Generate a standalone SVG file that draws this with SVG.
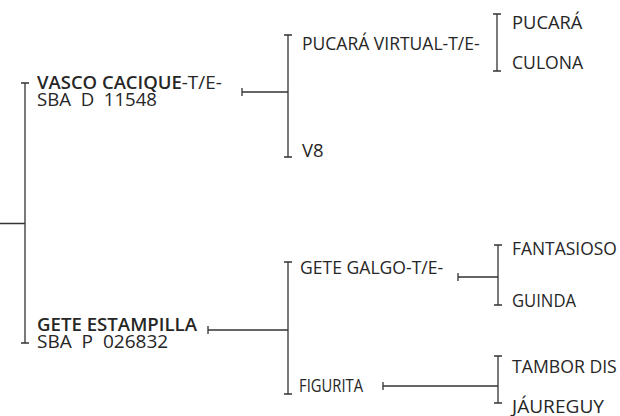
<svg xmlns="http://www.w3.org/2000/svg" width="620" height="416" viewBox="0 0 620 416">
<style>
text{font-family:"Open Sans","Noto Sans","Liberation Sans",sans-serif;font-size:18.5px;font-weight:500;fill:#262626;white-space:pre}
.b{font-weight:650}
#connectors path{fill:none;stroke:#333;stroke-width:1.3}
</style>
<rect width="620" height="416" fill="#fff"/>
<g id="connectors">
<path d="M0 223.5H25M25 83V343M21 83H29M21 343H29"/>
<path d="M242 88V96M242 92H288M288 35V157M284 35H292M284 157H292"/>
<path d="M497 14V71M493 14H501M493 71H501"/>
<path d="M208 326V334M208 330H288M288 262V394M284 262H292M284 394H292"/>
<path d="M458 273V281M458 277H498M498 245V305M494 245H502M494 305H502"/>
<path d="M383 382V390M383 386H498M498 356V403M494 356H502M494 403H502"/>
</g>
<g id="n-vasco">
<g transform="translate(37 89) scale(0.8 1)"><text><tspan class="b" textLength="181" lengthAdjust="spacingAndGlyphs">VASCO CACIQUE</tspan><tspan textLength="50" lengthAdjust="spacingAndGlyphs">-T/E-</tspan></text></g>
<g transform="translate(37 106) scale(0.8 1)"><text textLength="150" lengthAdjust="spacingAndGlyphs">SBA  D  11548</text></g>
</g>
<g id="n-pucara-virtual" transform="translate(302 50) scale(0.8 1)"><text textLength="222" lengthAdjust="spacingAndGlyphs">PUCARÁ VIRTUAL-T/E-</text></g>
<g id="n-v8" transform="translate(302 157) scale(0.8 1)"><text textLength="27" lengthAdjust="spacingAndGlyphs">V8</text></g>
<g id="n-pucara" transform="translate(512 29) scale(0.8 1)"><text textLength="88" lengthAdjust="spacingAndGlyphs">PUCARÁ</text></g>
<g id="n-culona" transform="translate(512 69) scale(0.8 1)"><text textLength="89" lengthAdjust="spacingAndGlyphs">CULONA</text></g>
<g id="n-gete-estampilla">
<g transform="translate(37 331) scale(0.8 1)"><text class="b" textLength="200" lengthAdjust="spacingAndGlyphs">GETE ESTAMPILLA</text></g>
<g transform="translate(37 348) scale(0.8 1)"><text textLength="164" lengthAdjust="spacingAndGlyphs">SBA  P  026832</text></g>
</g>
<g id="n-gete-galgo" transform="translate(300 274) scale(0.8 1)"><text textLength="179" lengthAdjust="spacingAndGlyphs">GETE GALGO-T/E-</text></g>
<g id="n-figurita" transform="translate(299 392) scale(0.8 1)"><text textLength="80" lengthAdjust="spacingAndGlyphs">FIGURITA</text></g>
<g id="n-fantasioso" transform="translate(512 255) scale(0.8 1)"><text textLength="131" lengthAdjust="spacingAndGlyphs">FANTASIOSO</text></g>
<g id="n-guinda" transform="translate(512 307) scale(0.8 1)"><text textLength="80" lengthAdjust="spacingAndGlyphs">GUINDA</text></g>
<g id="n-tambor" transform="translate(512 373) scale(0.8 1)"><text textLength="131" lengthAdjust="spacingAndGlyphs">TAMBOR DIS</text></g>
<g id="n-jaureguy" transform="translate(512 413) scale(0.8 1)"><text textLength="115" lengthAdjust="spacingAndGlyphs">JÁUREGUY</text></g>
</svg>
